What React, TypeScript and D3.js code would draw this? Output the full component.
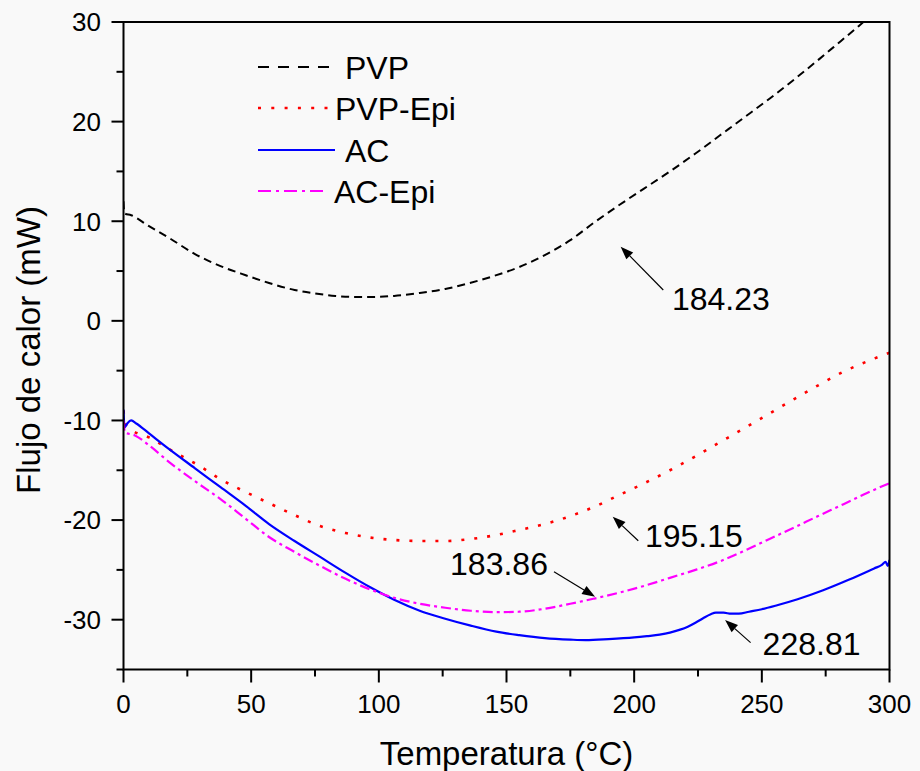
import React from "react";
import * as d3 from "d3";

// ---------- data ----------
const pvp: [number, number][] = [
  [0, 12.0], [0.3, 10.8], [3, 10.6], [10, 9.5], [18, 8.3], [28, 6.7], [38, 5.5], [47.6, 4.6],
  [57, 3.8], [67, 3.1], [75, 2.75], [83, 2.5], [90, 2.4], [96.5, 2.4], [106, 2.5], [116, 2.8],
  [126, 3.2], [135.6, 3.8], [145, 4.5], [155, 5.4], [165, 6.6], [175, 8.1], [184.5, 9.9],
  [194, 11.6], [204, 13.3], [214, 15.0], [224, 16.8], [233.5, 18.6], [243, 20.4], [253, 22.3],
  [263, 24.3], [272.6, 26.3], [281, 28.1], [288, 29.6], [292, 30.5],
];
const pvpEpi: [number, number][] = [
  [0, -9.0], [0.7, -10.3], [3, -10.9], [10, -11.7], [18, -12.9], [30, -14.6], [38, -15.9],
  [48, -17.2], [57, -18.3], [67, -19.5], [77, -20.6], [87, -21.3], [96.5, -21.75], [106, -22.0],
  [116, -22.1], [126, -22.1], [136, -21.9], [146, -21.5], [155, -21.0], [165, -20.4],
  [175, -19.6], [185, -18.6], [194, -17.5], [204, -16.3], [214, -15.0], [224, -13.6],
  [233.5, -12.2], [243, -10.8], [253, -9.3], [263, -7.8], [272.6, -6.4], [282, -5.1],
  [291, -4.1], [300, -3.2],
];
const ac: [number, number][] = [
  [0, -8.9], [0.4, -10.7], [1.5, -10.3], [3, -10.0], [5, -10.3], [10, -11.3], [18, -12.9],
  [28, -14.8], [38, -16.7], [48, -18.6], [57, -20.4], [67, -22.1], [77, -23.7], [87, -25.3],
  [97, -26.8], [106, -28.0], [116, -29.1], [126, -29.9], [136, -30.6], [146, -31.2],
  [155, -31.55], [165, -31.85], [175, -32.0], [181, -32.05], [190, -31.95], [200, -31.78],
  [205, -31.65], [210, -31.5], [214, -31.3], [218, -31.0], [221, -30.7], [224, -30.3],
  [227, -29.85], [230, -29.45], [232, -29.3], [235, -29.3], [238, -29.4], [241, -29.4],
  [245, -29.2], [250, -28.95], [256, -28.55], [264, -27.95], [274, -27.05], [284, -26.0],
  [294, -24.85], [297, -24.5], [298.5, -24.2], [299.3, -24.6], [300, -24.0],
];
const acEpi: [number, number][] = [
  [0, -10.0], [0.6, -11.2], [4.5, -11.5], [10, -12.5], [18, -14.2], [28, -16.1], [38, -17.9],
  [48, -19.9], [57, -21.7], [67, -23.2], [77, -24.6], [87, -25.9], [97, -27.0], [106, -27.8],
  [116, -28.4], [126, -28.8], [136, -29.1], [146, -29.25], [155, -29.2], [165, -28.9],
  [175, -28.4], [184, -27.9], [194, -27.3], [204, -26.6], [214, -25.8], [224, -25.0],
  [234, -24.1], [243, -23.1], [253, -21.9], [263, -20.7], [272, -19.6], [282, -18.4],
  [291, -17.3], [300, -16.3],
];

const seriesNames = ["PVP", "PVP-Epi", "AC", "AC-Epi"];
const xTicks = [0, 50, 100, 150, 200, 250, 300];
const xMinorTicks = [25, 75, 125, 175, 225, 275];
const yTicks = [-30, -20, -10, 0, 10, 20, 30];
const yMinorTicks = [-35, -25, -15, -5, 5, 15, 25];

// annotations: label, text position, arrow tail, arrow tip (data coords)
const annLabels = ["184.23", "195.15", "183.86", "228.81"];
const annText: [number, number][] = [[214.8, 1.1], [204.2, -22.67], [127.9, -25.5], [250.3, -33.55]];
const annTail: [number, number][] = [[211.4, 3.1], [201.6, -22.07], [168.6, -25.18], [245.6, -32.3]];
const annTip: [number, number][] = [[194.7, 7.45], [191.6, -19.66], [184.7, -27.7], [235.6, -30.03]];

// ---------- layout ----------
const W = 920;
const H = 771;
const L = 123.5, R = 889.5, T = 22, B = 669.5;
const FONT = "'Liberation Sans', Arial, Helvetica, sans-serif";

const x = d3.scaleLinear().domain([0, 300]).range([L, R]);
const y = d3.scaleLinear().domain([-35, 30]).range([B, T]);

const line = d3
  .line<[number, number]>()
  .x((d) => x(d[0]))
  .y((d) => y(d[1]))
  .curve(d3.curveMonotoneX);

const styles = [
  { color: "#000000", dash: "8,5", legDash: "11,9", width: 2 },
  { color: "#ff0000", dash: "3,10", legDash: "3,10.3", width: 2.6 },
  { color: "#0000ff", dash: "none", legDash: "none", width: 2.2 },
  { color: "#ff00ff", dash: "10,4,3,4", legDash: "13,5,3,5", width: 2.2 },
];
const allData = [pvp, pvpEpi, ac, acEpi];

const legendY = [67, 108, 150, 191];
const legendX2 = [335, 328, 335, 327];
const legendTX = [345, 335, 345, 334];

function Arrow({ tail, tip }: { tail: [number, number]; tip: [number, number] }) {
  const x1 = x(tail[0]), y1 = y(tail[1]);
  const x2 = x(tip[0]), y2 = y(tip[1]);
  const ang = Math.atan2(y2 - y1, x2 - x1);
  const len = 13, hw = 4.8;
  const bx = x2 - len * Math.cos(ang), by = y2 - len * Math.sin(ang);
  const px = -Math.sin(ang) * hw, py = Math.cos(ang) * hw;
  return (
    <g>
      <line x1={x1} y1={y1} x2={bx} y2={by} stroke="#000" strokeWidth={1.2} />
      <path d={`M${x2},${y2}L${bx + px},${by + py}L${bx - px},${by - py}Z`} fill="#000" />
    </g>
  );
}

export default function App() {
  return (
    <svg
      width={W}
      height={H}
      style={{ position: "absolute", left: 0, top: 0 }}
      fontFamily={FONT}
    >
      <rect x={0} y={0} width={W} height={H} fill="#f9f9f9" />
      <defs>
        <clipPath id="plotclip">
          <rect x={L} y={T} width={R - L} height={B - T} />
        </clipPath>
      </defs>

      {/* curves */}
      <g clipPath="url(#plotclip)">
        {allData.map((d, i) => (
          <path
            key={i}
            d={line(d) || ""}
            fill="none"
            stroke={styles[i].color}
            strokeWidth={styles[i].width}
            strokeDasharray={styles[i].dash}
          />
        ))}
      </g>

      {/* frame */}
      <rect x={L} y={T} width={R - L} height={B - T} fill="none" stroke="#000" strokeWidth={2} />

      {/* y ticks */}
      {yTicks.map((t) => (
        <g key={"y" + t}>
          <line x1={L - 12} x2={L} y1={y(t)} y2={y(t)} stroke="#000" strokeWidth={2} />
          <text x={101} y={y(t) + 9.3} fontSize={26} textAnchor="end" fill="#000">
            {String(t)}
          </text>
        </g>
      ))}
      {yMinorTicks.map((t) => (
        <line key={"ym" + t} x1={L - 7} x2={L} y1={y(t)} y2={y(t)} stroke="#000" strokeWidth={2} />
      ))}

      {/* x ticks */}
      {xTicks.map((t) => (
        <g key={"x" + t}>
          <line x1={x(t)} x2={x(t)} y1={B} y2={B + 13} stroke="#000" strokeWidth={2} />
          <text x={x(t)} y={713} fontSize={26} textAnchor="middle" fill="#000">
            {String(t)}
          </text>
        </g>
      ))}
      {xMinorTicks.map((t) => (
        <line key={"xm" + t} x1={x(t)} x2={x(t)} y1={B} y2={B + 7} stroke="#000" strokeWidth={2} />
      ))}

      {/* axis titles */}
      <text x={(L + R) / 2} y={765} fontSize={33} textAnchor="middle" fill="#000">
        Temperatura (°C)
      </text>
      <text
        transform={`translate(40,350) rotate(-90)`}
        fontSize={33}
        textAnchor="middle"
        fill="#000"
      >
        Flujo de calor (mW)
      </text>

      {/* legend */}
      {seriesNames.map((n, i) => (
        <g key={"lg" + i}>
          <line
            x1={258}
            x2={legendX2[i]}
            y1={legendY[i]}
            y2={legendY[i]}
            stroke={styles[i].color}
            strokeWidth={styles[i].width}
            strokeDasharray={styles[i].legDash}
          />
          <text x={legendTX[i]} y={legendY[i] + 11.5} fontSize={32} fill="#000">
            {n}
          </text>
        </g>
      ))}

      {/* annotations */}
      {annLabels.map((lab, i) => (
        <g key={"an" + i}>
          <Arrow tail={annTail[i]} tip={annTip[i]} />
          <text x={x(annText[i][0])} y={y(annText[i][1])} fontSize={32} fill="#000">
            {lab}
          </text>
        </g>
      ))}
    </svg>
  );
}
